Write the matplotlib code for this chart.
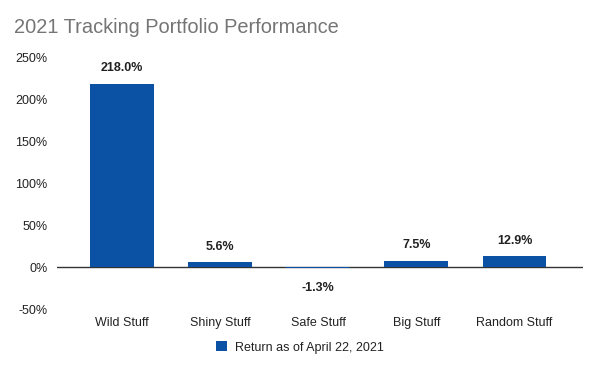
import numpy as np
import matplotlib.pyplot as plt
from matplotlib.ticker import FuncFormatter

# data
categories = ["Wild Stuff", "Shiny Stuff", "Safe Stuff", "Big Stuff", "Random Stuff"]
returns = [218.0, 5.6, -1.3, 7.5, 12.9]
series_name = "Return as of April 22, 2021"
title = "2021 Tracking Portfolio Performance"

bar_color = "#0b52a5"
plt.rcParams["font.family"] = ["Liberation Sans", "DejaVu Sans"]

fig = plt.figure(figsize=(6, 3.71), dpi=100)
ax = fig.add_axes([0.095, 0.167, 0.877, 0.679])

x = np.arange(len(categories))
bars = ax.bar(x, returns, width=0.65, color=bar_color, label=series_name, zorder=3)

# value labels
for xi, v in zip(x, returns):
    if v >= 0:
        ax.annotate(f"{v:.1f}%", (xi, v), xytext=(0, 7), textcoords="offset points",
                    ha="center", va="bottom", fontsize=9, fontweight="bold", color="#222222")
    else:
        ax.annotate(f"{v:.1f}%", (xi, v), xytext=(0, -10), textcoords="offset points",
                    ha="center", va="top", fontsize=9, fontweight="bold", color="#222222")

ax.axhline(0, color="#333333", linewidth=1, zorder=2)
ax.set_ylim(-50, 250)
ax.set_xlim(-0.66, 4.7)
ax.set_yticks([-50, 0, 50, 100, 150, 200, 250])
ax.yaxis.set_major_formatter(FuncFormatter(lambda v, p: f"{v:.0f}%"))
ax.set_xticks(x)
ax.set_xticklabels(categories)
ax.tick_params(axis="both", length=0, labelsize=9, colors="#222222")
ax.tick_params(axis="x", pad=6)
ax.tick_params(axis="y", pad=7)
for s in ax.spines.values():
    s.set_visible(False)

fig.text(0.023, 0.927, title, fontsize=14.4, color="#757575", ha="left", va="center")

fig.legend(handles=[bars], labels=[series_name], loc="center", bbox_to_anchor=(0.5, 0.064),
           frameon=False, fontsize=9, handlelength=0.9, handleheight=0.9, handletextpad=0.6,
           labelcolor="#222222")

fig.savefig("out.png", dpi=100)
